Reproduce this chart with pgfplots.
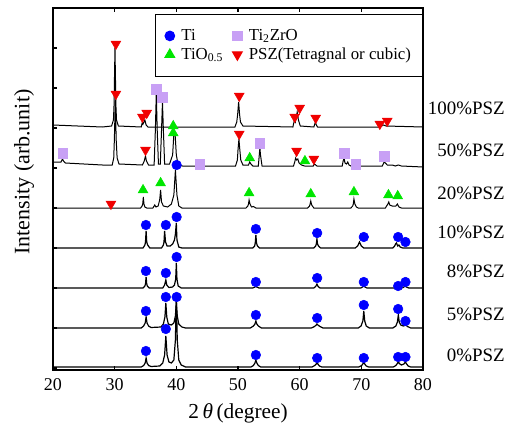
\documentclass[border=0pt]{standalone}
\usepackage{fontspec}
\setmainfont{Liberation Serif}
\usepackage{pgfplots}
\pgfplotsset{compat=1.18}
\usetikzlibrary{calc}

\definecolor{tiblue}{RGB}{0,0,255}
\definecolor{tizr}{RGB}{200,160,245}
\definecolor{tiogreen}{RGB}{0,230,0}
\definecolor{pszred}{RGB}{240,0,0}

\begin{document}
\begin{tikzpicture}
\begin{axis}[
    scale only axis,
    width=277.5pt, height=271.5pt,
    xmin=20, xmax=80, ymin=0, ymax=362,
    xtick={20,30,...,80},
    ytick={2,42,...,362},
    yticklabels={},
    xtick pos=both, ytick pos=left,
    tick align=inside,
    major tick length=3pt,
    axis line style={line width=1pt},
    tick style={line width=0.8pt, black},
    clip=false,
    /pgf/number format/assume math mode=true,
    tick label style={font=\fontsize{13.5}{15}\selectfont},
    xticklabel style={yshift=-3pt},
    xlabel={2\,\textit{θ}\,(degree)},
    ylabel={Intensity (arb.unit)},
    xlabel style={at={(axis description cs:0.5,-0.119)}, anchor=center, font=\fontsize{16}{18}\selectfont},
    ylabel style={at={(axis description cs:-0.078,0.547)}, anchor=center, font=\fontsize{16.5}{18}\selectfont},
    legend columns=2,
    legend cell align=left,
    legend style={at={(rel axis cs:0.276,0.983)}, anchor=north west, draw=black, line width=0.8pt,
        font=\fontsize{12.6}{14}\selectfont, inner xsep=7pt, inner ysep=9pt,
        /tikz/every odd column/.append style={column sep=3pt},
        /tikz/every even column/.append style={column sep=5pt}},
]
% 0%PSZ
\addplot[black, line width=0.9pt, forget plot] coordinates {
(20,3) (34.3,3) (34.7,4.5) (34.95,7) (35.1,12) (35.25,7) (35.5,4.5) (35.9,3.5) (37.3,4) (37.8,7)
(38.1,15) (38.3,34) (38.5,15) (38.8,8) (39.2,7) (39.6,10) (39.85,30) (40.0,75) (40.15,30) (40.4,10)
(40.8,5) (41.5,3) (52.1,3) (52.5,4.5) (52.75,7) (52.9,10) (53.05,7) (53.3,4.5) (53.7,3) (62.0,3)
(62.45,4.5) (62.7,6) (62.8,8) (62.95,6) (63.2,4) (63.6,3) (69.6,3) (70.05,4.5) (70.3,6.5) (70.4,8)
(70.55,6) (70.8,4) (71.2,3) (75.2,3) (75.6,4.5) (75.9,7) (76.0,9) (76.15,6.5) (76.5,5) (76.9,6)
(77.15,8) (77.35,6) (77.6,4) (78,3) (80,3)};
% 5%PSZ
\addplot[black, line width=0.9pt, forget plot] coordinates {
(20,42) (34.3,42) (34.7,44) (34.95,47) (35.1,53) (35.25,47) (35.5,44) (35.9,42.5) (37.5,43) (37.9,46)
(38.15,53) (38.3,67) (38.45,53) (38.7,46) (39.2,45) (39.6,47) (39.85,54) (40.0,68) (40.15,54) (40.4,46)
(40.9,43) (41.5,42) (52.0,42) (52.5,44) (52.75,46) (52.9,49) (53.05,46) (53.3,44) (53.8,42) (61.9,42)
(62.4,43.5) (62.7,45) (62.8,46) (62.95,45) (63.3,43.5) (63.8,42) (69.5,42) (69.95,44) (70.25,49) (70.4,59)
(70.55,49) (70.8,44) (71.3,42) (75.1,42) (75.6,44) (75.85,48) (76.0,55) (76.15,48) (76.4,45) (76.8,44)
(77.2,45) (77.5,43.5) (78,42) (80,42)};
% 8%PSZ
\addplot[black, line width=0.9pt, forget plot] coordinates {
(20,82) (34.6,82) (34.9,84) (35.0,86) (35.1,93) (35.2,86) (35.3,84) (35.6,82) (37.8,82) (38.1,85)
(38.3,90) (38.45,85) (38.8,82.5) (39.4,83) (39.7,85) (39.9,91) (40.0,107) (40.1,91) (40.3,84) (40.8,82)
(52.4,82) (52.75,83) (52.9,84) (53.05,83) (53.4,82) (62.3,82) (62.6,83.5) (62.8,86) (63.0,83.5) (63.3,82)
(69.9,82) (70.2,83) (70.4,84) (70.6,83) (70.9,82) (75.6,82) (76.0,83) (76.4,82) (76.8,82.5) (77.1,84)
(77.3,83) (77.7,82) (80,82)};
% 10%PSZ
\addplot[black, line width=0.9pt, forget plot] coordinates {
(20,122) (34.6,122) (34.9,125) (35.0,128) (35.1,139) (35.2,128) (35.35,125) (35.7,122) (37.6,122) (37.9,125)
(38.0,128) (38.1,139) (38.25,128) (38.5,124) (39.0,124) (39.4,126) (39.7,130) (39.85,136) (40.0,147) (40.1,130)
(40.4,123) (40.9,122) (52.4,122) (52.7,124) (52.8,127) (52.9,135) (53.0,127) (53.15,124) (53.5,122) (62.3,122)
(62.6,124) (62.7,126) (62.8,131) (62.9,126) (63.05,124) (63.4,122) (69.0,122) (69.4,124) (69.55,126) (69.7,128)
(69.85,126) (70.0,124) (70.4,122) (75.1,122) (75.4,124) (75.55,126) (75.7,127) (75.9,124) (76.1,125) (76.3,123)
(76.7,122) (80,122)};
% 20%PSZ
\addplot[black, line width=0.75pt, forget plot] coordinates {
(20,162) (34.2,162) (34.45,164) (34.55,166) (34.65,173) (34.75,166) (34.9,163) (35.2,162) (36.2,162) (36.5,165)
(36.7,163) (37.05,164) (37.3,170) (37.45,180) (37.6,168) (37.9,164) (38.6,163) (39.2,166) (39.6,175) (39.85,200)
(40.1,175) (40.4,164) (40.9,162) (51.3,162) (51.6,164) (51.7,166) (51.8,170) (51.95,166) (52.2,163) (52.5,163.5)
(52.9,162) (61.3,162) (61.6,164) (61.7,166) (61.8,169) (61.95,165) (62.3,162) (68.3,162) (68.6,164) (68.7,166)
(68.8,171) (68.95,166) (69.2,163) (69.5,162) (73.9,162) (74.2,165) (74.3,166) (74.45,168) (74.6,165) (75.0,164)
(75.6,164) (75.85,166) (76.1,163) (76.5,162) (80,162)};
% 50%PSZ
\addplot[black, line width=0.75pt, forget plot] coordinates {
(20,208) (21.3,208) (21.55,211) (21.7,209) (22,207) (25,206) (28,205) (29.6,205) (29.85,212) (29.95,230)
(30.1,270) (30.25,230) (30.4,212) (30.7,206) (34.5,205) (34.8,209) (35.0,214) (35.15,209) (35.5,205) (36.4,205)
(36.6,240) (36.75,277) (36.9,240) (37.1,206) (37.4,206) (37.6,240) (37.75,268) (37.9,240) (38.1,206) (38.9,206)
(39.4,215) (39.6,236) (39.8,236) (40.0,215) (40.3,205) (41,204) (49.6,204) (49.9,210) (50.0,220) (50.15,231)
(50.3,220) (50.45,210) (50.8,205) (51.7,205) (51.9,208) (52.1,206) (52.4,204) (53.3,204) (53.45,215) (53.55,222)
(53.65,215) (53.9,204) (59.0,204) (59.2,208) (59.35,212) (59.5,210) (59.7,211) (59.9,207) (60.3,205) (60.8,204)
(62.2,204) (62.4,206) (62.6,205) (62.8,204) (66.9,204) (67.05,209) (67.2,212) (67.35,207) (67.6,206) (67.8,208)
(68.0,205) (68.3,204) (73.4,204) (73.7,208) (73.9,207) (74.2,205) (75,205) (75.5,204) (76,205) (76.5,204)
(80,203)};
% 100%PSZ
\addplot[black, line width=0.75pt, forget plot] coordinates {
(20,245) (28,243) (29.5,244) (29.8,250) (29.9,265) (30.05,322) (30.2,265) (30.3,250) (30.6,244) (34.3,243)
(34.5,248) (34.6,246) (34.9,250) (35.1,245) (35.4,243) (49.5,243) (49.8,248) (49.95,256) (50.1,268) (50.25,256)
(50.4,248) (50.8,244) (58.9,243) (59.15,250) (59.3,248) (59.6,258) (59.8,250) (60.1,244) (62.3,243) (62.55,248)
(62.7,245) (62.9,243) (72.8,243) (73.3,244) (73.6,245) (74.0,244) (80,243)};

% phase markers
\addplot[only marks, mark=*, mark size=3.6pt, color=tiblue] coordinates {
(35.07,19) (38.3,41) (52.9,15) (62.84,12) (70.4,12) (75.97,13) (77.16,13)
(35.07,59) (38.3,73) (40.05,73) (52.9,55) (62.84,52) (70.4,65) (75.97,61) (77.16,49)
(35.07,99) (38.3,97) (40.05,113) (52.9,88) (62.84,92) (70.4,88) (75.97,84) (77.16,88)
(35.07,145) (38.3,145) (40.05,153) (52.9,141) (62.84,137) (70.4,133) (75.97,133) (77.16,128)
(40.05,205)};
\addlegendentry{Ti}
\addplot[only marks, mark=square*, mark size=3.6pt, color=tizr] coordinates {
(21.6,217) (36.7,281) (37.7,273) (43.8,206) (53.55,227) (67.2,217) (69.1,206) (73.75,214)};
\addlegendentry{Ti\textsubscript{2}ZrO}
\addplot[only marks, mark=triangle*, mark size=4.2pt, color=tiogreen] coordinates {
(39.5,244) (39.5,237) (51.9,212) (60.85,209)
(34.6,180) (37.45,187) (51.8,177) (61.8,176) (68.8,178) (74.4,175) (75.9,174)};
\addlegendentry{TiO\textsubscript{0.5}}
\addplot[only marks, mark=triangle*, mark size=4.2pt, color=pszred, mark options={rotate=180}] coordinates {
(30.2,326) (34.5,253) (35.2,257) (50.2,274) (59.2,253) (60.0,262) (62.6,252) (73.0,246) (74.2,249)
(30.2,276) (35.0,220) (50.2,236) (59.5,219) (62.3,211)
(29.4,166)};
\addlegendentry{PSZ(Tetragnal or cubic)}

\begin{scope}[every node/.style={anchor=east, font=\fontsize{14.2}{16}\selectfont, inner sep=0pt}]
\node at (axis cs:93.3,262) {100\%PSZ};
\node at (axis cs:93.3,220) {50\%PSZ};
\node at (axis cs:93.3,177) {20\%PSZ};
\node at (axis cs:93.3,138) {10\%PSZ};
\node at (axis cs:93.3,99) {8\%PSZ};
\node at (axis cs:93.3,56) {5\%PSZ};
\node at (axis cs:93.3,15) {0\%PSZ};
\end{scope}
\end{axis}
\pgfresetboundingbox
\path (current axis.south west) ++(-39.75pt,-42pt) rectangle ++(383.25pt,319.5pt);
\end{tikzpicture}
\end{document}
